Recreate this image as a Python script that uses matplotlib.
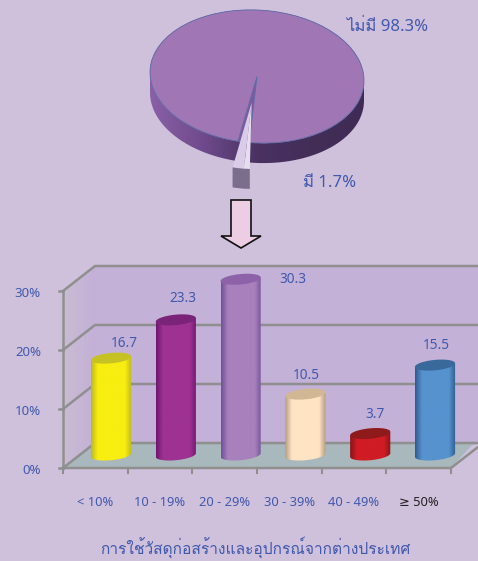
import matplotlib
matplotlib.use("Agg")
import matplotlib.pyplot as plt
from matplotlib.colors import LinearSegmentedColormap
from matplotlib.patches import Polygon
from matplotlib.transforms import Affine2D
import numpy as np

W, H = 478, 561
BG = "#CFC0DC"
GRID = "#8F8F8F"
BLUE = "#4159AC"

PIE_VALUES = [98.3, 1.7]
PIE_LABELS = ["ไม่มี 98.3%", "มี 1.7%"]

CATEGORIES = ["< 10%", "10 - 19%", "20 - 29%", "30 - 39%", "40 - 49%", "≥ 50%"]
VALUES = [16.7, 23.3, 30.3, 10.5, 3.7, 15.5]
Y_TICKS = [0, 10, 20, 30]
TITLE = "การใช้วัสดุก่อสร้างและอุปกรณ์จากต่างประเทศ"

BAR_COLORS = [
    ("#BDB822", "#F8EE10", "#C7C224"),
    ("#6C1670", "#9E3292", "#7A2378"),
    ("#70509A", "#A880BC", "#8E62A8"),
    ("#B49C80", "#FFE4C4", "#D2B795"),
    ("#861518", "#D01C24", "#8E1A1C"),
    ("#2E5A8C", "#5692CE", "#39689A"),
]

plt.rcParams["font.family"] = ["Noto Sans", "Loma", "DejaVu Sans"]


def px_axes(fig, left, top, right, bottom):
    return fig.add_axes([left / W, 1 - bottom / H, (right - left) / W, (bottom - top) / H])


def gradient(ax, colors, extent, clip, zorder=2):
    cmap = LinearSegmentedColormap.from_list("g", colors)
    im = ax.imshow(np.linspace(0, 1, 128).reshape(1, -1), cmap=cmap, extent=extent,
                   aspect="auto", zorder=zorder, interpolation="bilinear")
    im.set_clip_path(clip)
    return im


fig = plt.figure(figsize=(W / 100, H / 100), dpi=100, facecolor=BG)

# frame, everything here in pixels
ax = fig.add_axes([0, 0, 1, 1])
ax.set_xlim(0, W)
ax.set_ylim(H, 0)
ax.axis("off")

x0, x1, y0, ppv = 63, 451, 468, 5.9
dx, dy = 32, 25
wall = Polygon([(x0, y0 - 30 * ppv), (x0 + dx, y0 - 30 * ppv - dy), (x0 + dx, y0 - dy), (x0, y0)],
               closed=True, fc="none", ec="none")
ax.add_patch(wall)
gradient(ax, ["#C9BCD2", "#C4B0D8"], (x0, x0 + dx, y0, y0 - 30 * ppv - dy), wall, zorder=1)
ax.add_patch(Polygon([(x0 + dx, y0 - 30 * ppv - dy), (W, y0 - 30 * ppv - dy), (W, y0 - dy), (x0 + dx, y0 - dy)],
                     closed=True, fc="#C4B1D8", ec="none", zorder=1))
ax.add_patch(Polygon([(x0, y0), (x1, y0), (x1 + 20, y0 - dy + 3), (W, y0 - dy), (x0 + dx, y0 - dy)],
                     closed=True, fc="#A9B8BC", ec="none", zorder=1))
for t in Y_TICKS:
    yt = y0 - t * ppv
    ax.plot([x0, x0 + dx, W], [yt, yt - dy, yt - dy], color=GRID, lw=1.8, zorder=1.5)
    ax.plot([x0 - 4, x0], [yt, yt], color=GRID, lw=1.8, zorder=1.5)
    ax.text(41, yt + 2, f"{t}%", ha="right", va="center", fontsize=9.5, color=BLUE)
ax.plot([x0, x0], [y0, y0 - 30 * ppv], color=GRID, lw=1.8, zorder=1.5)
ax.plot([x0, x1, W], [y0, y0, y0 - 21], color=GRID, lw=1.8, zorder=1.5)
step = (x1 - x0) / len(CATEGORIES)
for i in range(len(CATEGORIES) + 1):
    ax.plot([x0 + i * step] * 2, [y0, y0 + 5], color=GRID, lw=1.5, zorder=1.5)
for i, c in enumerate(CATEGORIES):
    ax.text(x0 + (i + 0.5) * step, 502, c, ha="center", va="center", fontsize=9.3,
            color="#222222" if i == len(CATEGORIES) - 1 else BLUE)
ax.text(255, 547, TITLE, ha="center", va="center", fontsize=11.2, color=BLUE)
ax.text(346, 27, PIE_LABELS[0], ha="left", va="center", fontsize=12, color=BLUE)
ax.text(303, 183, PIE_LABELS[1], ha="left", va="center", fontsize=12, color=BLUE)
ax.add_patch(Polygon([(231, 200), (251, 200), (251, 236), (261, 236), (241, 248), (221, 236), (231, 236)],
                     closed=True, fc="#EDCDE3", ec="#111111", lw=1.2))

# bars, x in categories and y in percent
ax_bar = px_axes(fig, 78.6, 252, 467.4, 466.6)
ax_bar.patch.set_alpha(0)
ax_bar.axis("off")
half_w, half_h, tilt = 0.31, 0.9, 1.0
t = np.linspace(0, 2 * np.pi, 80)
for i, (v, (edge, mid, top)) in enumerate(zip(VALUES, BAR_COLORS)):
    ex = half_w * np.cos(t)
    ey = half_h * np.sin(t) + tilt * ex
    low = t >= np.pi
    xs = np.r_[i + ex[low], i + ex[low][::-1]]
    ys = np.r_[ey[low], v + (tilt * ex[low])[::-1]]
    body = Polygon(np.c_[xs, ys], closed=True, fc="none", ec="none")
    ax_bar.add_patch(body)
    gradient(ax_bar, [edge, mid, mid, mid, mid, mid, edge], (i - half_w, i + half_w, -2, v + 2), body)
    ax_bar.fill(i + ex, v + ey, color=top, lw=0, zorder=3)
LABEL_OFFSET = [(13, 15), (7, 21), (52, 0), (1, 19), (5, 19), (1, 20)]
for i, v in enumerate(VALUES):
    ax_bar.annotate(f"{v}", (i, v), xytext=(LABEL_OFFSET[i][0] * 0.72, LABEL_OFFSET[i][1] * 0.72),
                    textcoords="offset points", ha="center", va="center", fontsize=9.8, color=BLUE)
ax_bar.set_xlim(-0.5, 5.5)
ax_bar.set_ylim(-2, 35)

# pie, unit circle squashed through the axes box
rx, ry = 107, 66.5
cx, cy = 257, 76.5
ax_pie = px_axes(fig, cx - 1.3 * rx, cy - 1.2 * ry, cx + 1.3 * rx, cy + 1.9 * ry)
ax_pie.patch.set_alpha(0)
shear = Affine2D.from_values(1, -0.06, 0, 1, 0, 0) + ax_pie.transData
depth = 0.3
a = np.linspace(np.pi, 2 * np.pi, 100)
side_pts = np.r_[np.c_[np.cos(a), np.sin(a)], np.c_[np.cos(a[::-1]), np.sin(a[::-1]) - depth]]
side = Polygon(side_pts, closed=True, fc="none", ec="none", transform=shear)
ax_pie.add_patch(side)
gradient(ax_pie, ["#8A60A6", "#6E4A8C", "#4A3162", "#432E58", "#3F2B55"], (-1, 1, -1.4, 0.2), side, zorder=1)
aa = np.linspace(0, 2 * np.pi, 200)
ax_pie.add_patch(Polygon(np.c_[np.cos(aa), np.sin(aa)], closed=True, fc="#7B5A9E", ec="none",
                         transform=shear, zorder=1.5))
wedges, _ = ax_pie.pie(PIE_VALUES, explode=[0, 0.4], startangle=265.86, radius=1,
                       colors=["#A076B4", "#D8CCE8"], wedgeprops={"linewidth": 0})
wedges[0].set_edgecolor("#5C6DA6")
wedges[0].set_linewidth(0.6)
for w_ in wedges:
    w_.set_transform(shear)
    w_.set_zorder(2)
wedges[1].set_zorder(4)
th1, th2 = np.radians(wedges[1].theta1), np.radians(wedges[1].theta2)
b = np.linspace(th1, th2, 10)
off = np.array(wedges[1].center)
rim = np.c_[np.cos(b), np.sin(b)] + off
wider = 0.055
# lit inner wall of the pulled out slice, on its right
ax_pie.add_patch(Polygon([off, rim[-1], rim[-1] + [wider, 0]], closed=True, fc="#E6DEEE", ec="none",
                         transform=shear, zorder=3.5))
front = np.r_[rim, [rim[-1] + [wider, 0]], [rim[-1] + [wider, -depth]], (rim - [0, depth])[::-1]]
ax_pie.add_patch(Polygon(front, closed=True, fc="#7A6E8C", ec="none", transform=shear, zorder=4))
ax_pie.set_aspect("auto")
ax_pie.set_xlim(-1.3, 1.3)
ax_pie.set_ylim(-1.9, 1.2)

fig.savefig("out.png", dpi=100, facecolor=BG)
